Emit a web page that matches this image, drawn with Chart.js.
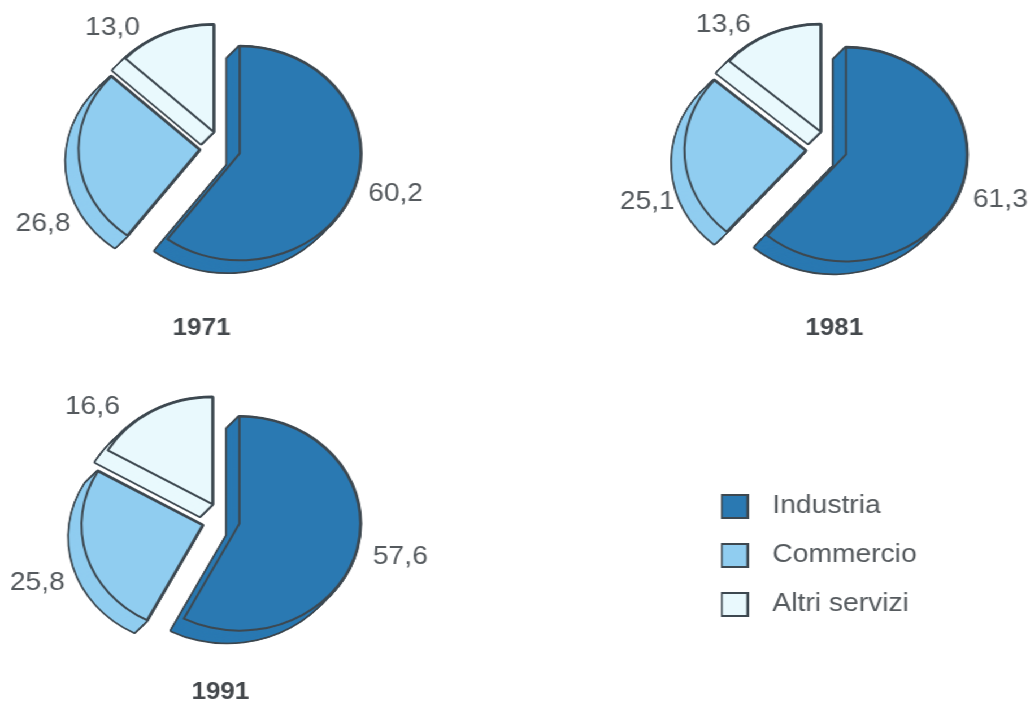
<!DOCTYPE html>
<html><head><meta charset="utf-8">
<script src="https://cdn.jsdelivr.net/npm/chart.js@4/dist/chart.umd.min.js"></script>
<style>
html,body{margin:0;padding:0;background:#fff;width:1031px;height:702px;overflow:hidden}
#stage{position:absolute;left:0;top:0;width:912px;height:702px;transform:scaleX(1.13);transform-origin:0 0}
canvas{position:absolute}
</style></head><body><div id="stage"></div>
<script>
const categories = ['Industria','Commercio','Altri servizi'];
const years = ['1971','1981','1991'];
const values1971 = [60.2,26.8,13.0];
const values1981 = [61.3,25.1,13.6];
const values1991 = [57.6,25.8,16.6];
const colors = ['#2a79b2','#90cdf0','#e9f9fd'];
const EDGE = '#3d4850';
const TEXT = '#555a5e';
const SX = 1.13, R = 107, DEPTH = [-11, 12], W = 500, H = 380;
const FONT = '"Liberation Sans", Arial, sans-serif';

// layout per pie: centre, per-slice explosion, label positions in page pixels
const layouts = [
  {cx:195.5, cy:148.3, explode:[17,19.6,17.7], labels:[[395,194.5],[42.5,224.5],[112,28.5]], year:[201,329]},
  {cx:733.7, cy:148.5, explode:[15.7,21.3,19.2], labels:[[1000,199.5],[647,201.5],[723,24.5]], year:[834,328]},
  {cx:196.7, cy:519.8, explode:[15.3,18.6,18.2], labels:[[400,556.5],[37,582.5],[92,406.5]], year:[220,692]}
];
const allValues = [values1971,values1981,values1991];
const stage = document.getElementById('stage');

function addCanvas(l,t,w,h){
  const c=document.createElement('canvas');
  c.width=w;c.height=h;c.style.left=l+'px';c.style.top=t+'px';
  stage.appendChild(c);return c;
}
function drawWith(arc,ctx,bg,bw){
  const o=arc.options;
  arc.options={offset:o.offset,spacing:0,circular:true,borderAlign:'center',borderJoinStyle:'round',
    borderDash:[],borderDashOffset:0,borderRadius:0,backgroundColor:bg,borderColor:EDGE,borderWidth:bw};
  arc.draw(ctx);
  arc.options=o;
}
const pie3d = {
  id:'pie3d',
  afterDatasetUpdate(chart){
    // keep every exploded slice at the same radius and with straight radial edges
    chart.getDatasetMeta(0).data.forEach(arc=>{
      const off=(arc.options.offset||0)/4;
      const fix=1-Math.sin(Math.min(Math.PI,arc.circumference||0));
      const d=off*fix/(2*Math.PI*R);
      arc.outerRadius=R-off*fix;
      arc.startAngle-=d;
      arc.endAngle+=d;
    });
  },
  beforeDatasetsDraw(chart){
    const ctx=chart.ctx, arcs=chart.getDatasetMeta(0).data, N=26;
    arcs.forEach((arc,i)=>{
      for(const pass of [0,1]){
        for(let s=N;s>=0;s--){
          ctx.save();
          ctx.translate(DEPTH[0]*s/N,DEPTH[1]*s/N);
          if(pass===0) drawWith(arc,ctx,EDGE,3.4); else drawWith(arc,ctx,colors[i],0);
          ctx.restore();
        }
      }
    });
  },
  afterDraw(chart){
    const ctx=chart.ctx, o=chart.options.plugins.pie3d, L=o.layout;
    const ox=L.cx-W/2, oy=L.cy-H/2;
    ctx.save();
    ctx.textAlign='center';ctx.textBaseline='middle';
    ctx.fillStyle=TEXT;ctx.font='25px '+FONT;
    o.values.forEach((v,i)=>{
      const p=L.labels[i];
      ctx.fillText(v.toFixed(1).replace('.',','),p[0]/SX-ox,p[1]-oy);
    });
    ctx.fillStyle='#45494d';ctx.font='bold 23px '+FONT;
    ctx.fillText(o.yearLabel,L.year[0]/SX-ox,L.year[1]-oy);
    ctx.restore();
  }
};
allValues.forEach((vals,k)=>{
  const L=layouts[k];
  const c=addCanvas(L.cx-W/2,L.cy-H/2,W,H);
  new Chart(c,{
    type:'pie',
    data:{labels:categories,datasets:[{data:vals,backgroundColor:colors,borderColor:EDGE,borderWidth:2,
      offset:L.explode.map(e=>e*4),borderAlign:'center',borderJoinStyle:'round'}]},
    options:{responsive:false,animation:false,radius:R,
      layout:{padding:0},
      plugins:{legend:{display:false},tooltip:{enabled:false},pie3d:{layout:L,values:vals,yearLabel:years[k]}},
      events:[]},
    plugins:[pie3d]
  });
});
// legend
function swatch(col){
  const s=document.createElement('canvas');s.width=25;s.height=25;
  const x=s.getContext('2d');x.fillStyle=col;x.fillRect(1,1,23,23);
  x.strokeStyle=EDGE;x.lineWidth=2;x.strokeRect(1,1,23,23);return s;
}
const lc=addCanvas(605,470,500,200);
new Chart(lc,{
  type:'pie',
  data:{labels:categories,datasets:[{data:[1,1,1],backgroundColor:colors}]},
  options:{responsive:false,animation:false,radius:0,events:[],
    plugins:{tooltip:{enabled:false},legend:{position:'left',align:'start',
      labels:{usePointStyle:true,pointStyleWidth:42,boxHeight:23,padding:24,color:TEXT,
        font:{size:25,family:FONT},
        generateLabels:()=>categories.map((t,i)=>({text:t,fillStyle:colors[i],strokeStyle:EDGE,lineWidth:2,fontColor:TEXT,pointStyle:swatch(colors[i]),index:i}))
      }}}}
});
</script></body></html>
